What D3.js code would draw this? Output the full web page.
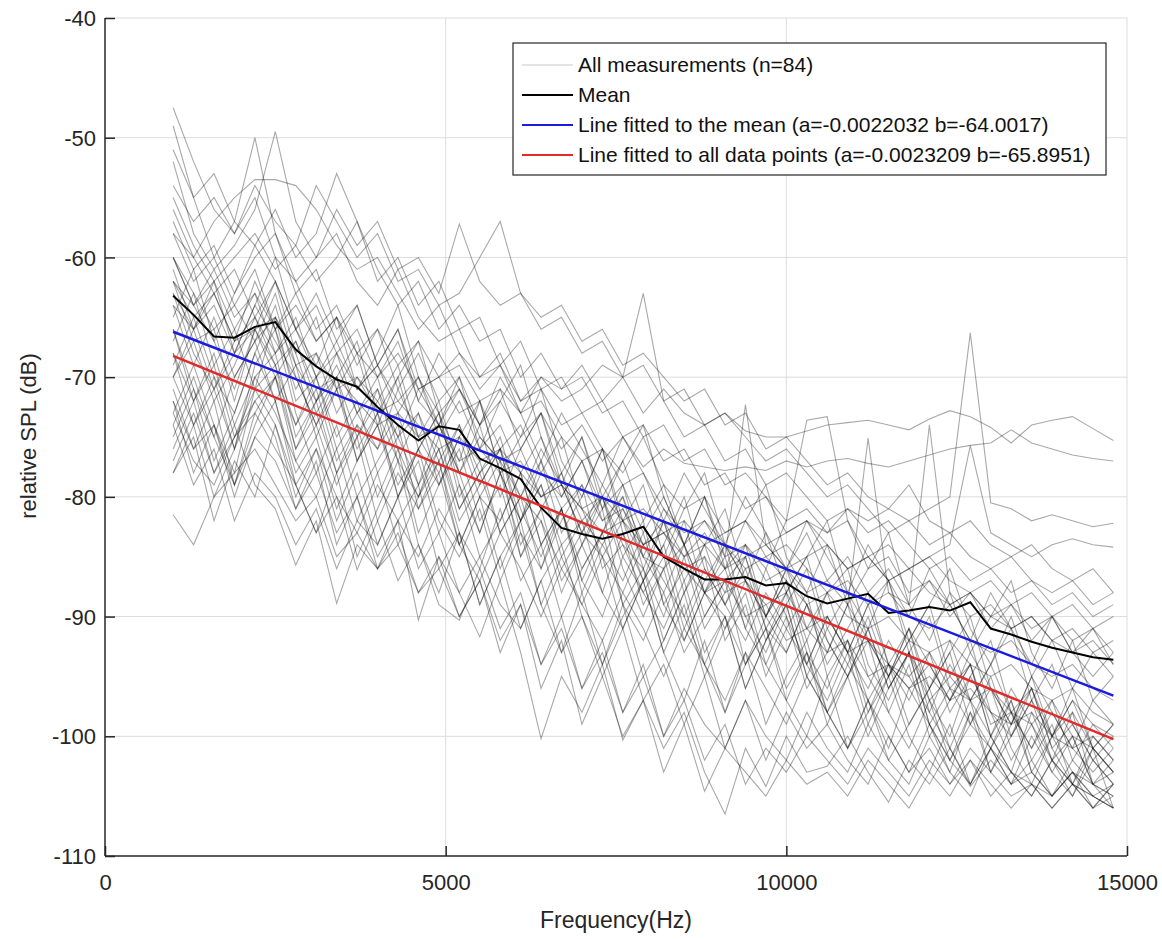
<!DOCTYPE html>
<html><head><meta charset="utf-8">
<script src="https://cdn.jsdelivr.net/npm/d3@7"></script>
<style>body{margin:0;background:#fff}svg{display:block;font-family:"Liberation Sans",Arial,sans-serif}</style>
</head><body><svg id="c" width="1162" height="939"></svg>
<script>
const freqs = [1000,1300,1600,1900,2200,2500,2800,3100,3400,3700,4000,4300,4600,4900,5200,5500,5800,6100,6400,6700,7000,7300,7600,7900,8200,8500,8800,9100,9400,9700,10000,10300,10600,10900,11200,11500,11800,12100,12400,12700,13000,13300,13600,13900,14200,14500,14800];
const xTicks = [0,5000,10000,15000];
const yTicks = [-110,-100,-90,-80,-70,-60,-50,-40];
const meanValues = [-63.2,-64.8,-66.6,-66.7,-65.8,-65.4,-67.7,-69.1,-70.2,-70.8,-72.5,-74.0,-75.3,-74.1,-74.4,-76.8,-77.6,-78.5,-80.9,-82.6,-83.1,-83.5,-83.1,-82.5,-85.0,-86.0,-86.9,-86.9,-86.7,-87.4,-87.2,-88.3,-88.9,-88.5,-88.1,-89.7,-89.5,-89.2,-89.5,-88.8,-91.0,-91.5,-92.1,-92.6,-93.0,-93.4,-93.6];
const fitMean = {a:-0.0022032, b:-64.0017};
const fitAll = {a:-0.0023209, b:-65.8951};
const legendLabels = ["All measurements (n=84)","Mean","Line fitted to the mean (a=-0.0022032 b=-64.0017)","Line fitted to all data points (a=-0.0023209 b=-65.8951)"];
const measurements = [
[-47.5,-52,-56,-58,-55,-60,-62,-66,-64,-68,-70,-67,-72,-74,-71,-75,-77,-76,-80,-78,-82,-84,-81,-85,-86,-84,-88,-87,-90,-89,-92,-91,-93,-92,-95,-94,-96,-95,-97,-96,-98,-99,-98,-100,-101,-100,-102],
[-49,-55,-60,-57,-50,-58,-63,-61,-66,-64,-69,-66,-71,-70,-73,-72,-76,-74,-78,-80,-77,-82,-81,-84,-83,-86,-85,-88,-87,-89,-88,-91,-90,-93,-92,-94,-95,-93,-96,-97,-96,-98,-99,-97,-100,-101,-103],
[-52,-58,-61,-59,-56,-49.5,-57,-60,-58,-62,-64,-61,-65,-67,-66,-70,-68,-72,-71,-74,-73,-76,-78,-75,-79,-81,-80,-83,-82,-85,-84,-86,-88,-87,-89,-88,-90,-91,-89,-92,-93,-92,-94,-95,-94,-96,-97],
[-58,-60,-57,-55,-53.5,-53.5,-54,-56,-59,-61,-60,-63,-66,-64,-68,-70,-69,-73,-72,-75,-77,-76,-79,-78,-81,-83,-82,-84,-86,-85,-87,-89,-88,-90,-91,-90,-92,-93,-92,-94,-95,-94,-96,-97,-96,-98,-99],
[-55,-59,-62,-60,-58,-61,-59,-54,-57,-60,-58,-62,-61,-64,-63,-60,-57,-63,-65,-64,-67,-66,-69,-68,-70,-72,-71,-74,-73,-76,-75,-77,-79,-78,-80,-81,-79,-82,-83,-82,-84,-85,-84,-86,-87,-86,-88],
[-62,-64,-61,-65,-63,-66,-64,-67,-65,-68,-66,-69,-67,-70,-68,-71,-69,-72,-70,-71,-69,-72,-70,-73,-71,-73,-74,-73,-74.5,-75,-75,-74.5,-74,-73.8,-73.6,-74,-74.4,-73.5,-72.8,-73.3,-74.2,-75.5,-74,-73.6,-73.3,-74.3,-75.3],
[-64,-66,-63,-67,-65,-68,-66,-70,-68,-71,-69,-72,-70,-73,-71,-74,-72,-75,-73,-76,-74,-77,-75,-77.5,-76,-77.2,-77.5,-77.8,-77.5,-77.8,-77,-77.5,-77,-76.8,-77.2,-77.5,-77,-76.5,-76,-75.7,-75.5,-74.4,-75.5,-76,-76.5,-76.8,-77],
[-60,-63,-66,-64,-67,-65,-69,-68,-71,-70,-73,-72,-74,-76,-75,-77,-76,-78,-80,-79,-81,-80,-82,-81,-83,-82,-84,-83,-82,-84,-83,-82,-83,-81,-82,-81,-82,-81,-80,-66.3,-80.5,-81,-82,-81.5,-82,-82.5,-82.2],
[-62,-65,-63,-67,-66,-69,-67,-71,-70,-72,-74,-73,-75,-74,-77,-76,-78,-77,-80,-79,-81,-83,-82,-84,-83,-85,-84,-86,-85,-84,-86,-85,-84,-86,-85,-87,-86,-85,-84,-75.7,-83,-84,-85,-84,-83.5,-84,-84.2],
[-56,-60,-63,-61,-65,-62,-66,-64,-68,-66,-70,-68,-71,-70,-69,-72,-71,-73,-70,-72,-71,-69,-70,-63,-72,-75,-74,-77,-76,-79,-78,-80,-82,-81,-83,-82,-84,-86,-85,-87,-86,-88,-87,-89,-88,-90,-89],
[-58,-62,-60,-64,-61,-66,-63,-67,-65,-69,-66,-71,-68,-72,-70,-74,-71,-76,-73,-78,-75,-80,-77,-82,-79,-84,-80,-85,-72.3,-84,-86,-83,-87,-85,-88,-86,-89,-87,-90,-88,-91,-89,-92,-90,-93,-91,-94],
[-60,-64,-62,-66,-63,-68,-65,-70,-67,-71,-69,-73,-70,-75,-72,-76,-74,-78,-75,-80,-77,-81,-79,-83,-80,-84,-82,-85,-84,-86,-82,-73.6,-73.3,-82,-86,-85,-88,-87,-89,-88,-90,-89,-91,-90,-92,-91,-93],
[-63,-66,-64,-68,-66,-70,-67,-72,-69,-73,-71,-75,-73,-77,-74,-78,-76,-80,-77,-81,-79,-82,-80,-84,-82,-85,-83,-86,-84,-87,-86,-88,-87,-89,-75.1,-88,-89,-74,-88,-90,-89,-91,-90,-92,-91,-93,-92],
[-62,-67,-66,-72,-66,-65,-72,-70,-75,-72,-78,-75,-79,-74,-78,-83,-78,-82,-79,-84,-82,-80,-85,-82,-89,-86,-88,-86,-91,-86,-90,-94,-90,-93,-89,-94,-96,-94,-97,-94,-99,-98,-101,-98,-101,-103,-101],
[-70,-66,-71,-68,-64,-67,-70,-74,-71,-76,-73,-70,-76,-79,-75,-80,-82,-78,-84,-81,-86,-83,-79,-85,-88,-84,-90,-87,-85,-91,-93,-89,-92,-95,-91,-96,-93,-97,-95,-92,-98,-100,-96,-101,-99,-102,-104],
[-66,-72,-68,-74,-70,-68,-75,-72,-70,-77,-74,-79,-76,-73,-80,-77,-83,-80,-86,-82,-79,-86,-84,-88,-85,-91,-87,-84,-90,-93,-89,-95,-91,-88,-94,-97,-93,-99,-96,-94,-100,-97,-102,-99,-104,-101,-103],
[-73,-69,-74,-78,-71,-69,-76,-73,-78,-75,-71,-77,-80,-76,-82,-79,-76,-83,-86,-81,-88,-84,-87,-83,-89,-92,-88,-90,-94,-90,-87,-93,-96,-92,-98,-94,-91,-97,-100,-95,-98,-102,-99,-103,-100,-104,-105],
[-68,-74,-70,-76,-69,-66,-73,-78,-74,-80,-77,-74,-81,-78,-84,-80,-77,-85,-82,-88,-84,-81,-89,-86,-92,-88,-85,-92,-89,-95,-91,-88,-95,-92,-97,-94,-99,-96,-93,-99,-101,-97,-103,-100,-98,-104,-102],
[-75,-71,-77,-73,-68,-72,-78,-75,-81,-77,-74,-80,-77,-83,-79,-85,-82,-78,-84,-81,-87,-90,-85,-88,-91,-87,-93,-90,-96,-92,-89,-95,-98,-94,-97,-101,-96,-99,-103,-98,-101,-104,-100,-103,-105,-102,-104],
[-64,-69,-65,-70,-67,-63,-69,-72,-68,-73,-76,-71,-75,-72,-78,-74,-80,-76,-73,-79,-83,-80,-84,-86,-82,-87,-84,-89,-86,-91,-88,-85,-91,-94,-90,-95,-92,-89,-95,-97,-94,-98,-96,-100,-97,-99,-101],
[-71,-76,-72,-79,-74,-70,-77,-80,-76,-82,-78,-84,-80,-77,-83,-86,-81,-87,-84,-90,-86,-83,-89,-92,-88,-93,-90,-87,-94,-91,-96,-93,-99,-95,-92,-98,-101,-97,-102,-99,-96,-101,-104,-100,-103,-105,-104],
[-67,-63,-69,-66,-71,-65,-68,-73,-70,-75,-72,-69,-75,-78,-74,-79,-76,-82,-78,-75,-81,-85,-82,-87,-84,-80,-86,-89,-85,-90,-87,-92,-88,-86,-92,-95,-91,-96,-93,-90,-96,-99,-95,-100,-97,-101,-99],
[-77,-73,-78,-75,-71,-74,-80,-76,-82,-78,-84,-80,-76,-82,-85,-81,-87,-83,-89,-85,-82,-88,-91,-87,-93,-89,-95,-91,-88,-94,-97,-93,-98,-95,-100,-96,-93,-99,-102,-98,-103,-100,-97,-102,-105,-101,-106],
[-65,-61,-67,-71,-66,-62,-68,-65,-71,-68,-74,-70,-67,-73,-77,-72,-78,-75,-71,-77,-80,-76,-82,-79,-85,-81,-78,-84,-87,-83,-88,-85,-82,-88,-91,-87,-92,-89,-86,-91,-94,-90,-95,-92,-96,-93,-95],
[-72,-78,-74,-80,-75,-72,-79,-83,-78,-85,-81,-77,-84,-88,-83,-89,-85,-82,-89,-93,-88,-94,-90,-87,-93,-97,-92,-98,-94,-91,-97,-100,-95,-101,-98,-95,-100,-103,-99,-104,-101,-98,-103,-105,-102,-104,-106],
[-69,-65,-70,-73,-68,-64,-70,-74,-70,-67,-73,-77,-73,-79,-75,-72,-78,-82,-77,-83,-80,-76,-83,-87,-82,-88,-84,-81,-87,-90,-86,-91,-88,-93,-89,-87,-93,-96,-92,-97,-94,-91,-97,-100,-96,-101,-99],
[-74,-70,-75,-79,-73,-70,-76,-72,-78,-74,-80,-76,-83,-79,-76,-82,-79,-85,-81,-87,-84,-80,-86,-90,-86,-92,-88,-85,-91,-94,-90,-96,-93,-89,-95,-98,-94,-100,-97,-94,-100,-103,-98,-102,-100,-104,-103],
[-61,-66,-62,-68,-64,-60,-66,-69,-65,-71,-68,-64,-70,-74,-70,-76,-72,-69,-75,-79,-75,-81,-77,-74,-80,-84,-80,-86,-82,-79,-85,-88,-84,-89,-86,-83,-89,-92,-88,-93,-90,-87,-93,-96,-92,-97,-95],
[-78,-74,-80,-76,-72,-75,-81,-77,-84,-80,-86,-82,-79,-86,-83,-89,-85,-91,-87,-84,-90,-94,-89,-95,-92,-88,-94,-98,-93,-99,-95,-92,-98,-101,-97,-102,-99,-96,-101,-104,-100,-103,-105,-102,-104,-106,-105],
[-70,-67,-72,-69,-65,-69,-74,-70,-76,-73,-70,-76,-80,-75,-81,-78,-75,-81,-85,-81,-87,-83,-80,-86,-90,-85,-91,-88,-84,-90,-93,-89,-94,-91,-88,-94,-97,-93,-98,-95,-92,-98,-101,-97,-102,-99,-100],
[-66,-71,-75,-70,-67,-72,-69,-75,-71,-77,-73,-80,-76,-73,-79,-83,-78,-84,-81,-78,-84,-88,-83,-89,-86,-82,-88,-91,-87,-92,-89,-86,-92,-95,-91,-96,-93,-90,-96,-99,-95,-100,-97,-94,-99,-102,-100],
[-68,-72,-69,-75,-72,-70,-74,-71,-77,-74,-76,-73,-79,-76,-81,-78,-83,-80,-82,-86,-83,-85,-88,-84,-87,-90,-86,-89,-92,-88,-91,-94,-90,-93,-96,-92,-95,-98,-94,-97,-100,-96,-99,-102,-98,-101,-103],
[-63,-68,-71,-67,-62,-66,-71,-68,-73,-70,-72,-75,-71,-74,-78,-75,-77,-80,-76,-79,-83,-79,-82,-85,-81,-84,-88,-84,-87,-90,-86,-89,-93,-89,-92,-95,-91,-94,-97,-93,-96,-99,-95,-98,-101,-97,-99],
[-73,-77,-79,-75,-73,-76,-79,-76,-80,-83,-79,-82,-85,-81,-84,-87,-83,-86,-90,-86,-89,-92,-88,-91,-95,-91,-94,-97,-93,-96,-99,-95,-98,-101,-97,-100,-103,-99,-102,-104,-101,-103,-105,-102,-104,-106,-104],
[-60,-64,-67,-63,-59,-62,-66,-63,-67,-64,-69,-66,-72,-68,-71,-74,-70,-73,-77,-73,-76,-79,-75,-78,-82,-78,-81,-84,-80,-83,-86,-82,-85,-88,-84,-87,-90,-86,-89,-92,-88,-91,-94,-90,-93,-95,-93],
[-70,-74,-71,-76,-70,-73,-77,-74,-79,-75,-82,-78,-81,-77,-84,-80,-86,-82,-79,-85,-89,-85,-91,-87,-84,-90,-94,-90,-96,-92,-88,-94,-97,-93,-99,-95,-92,-98,-101,-97,-103,-99,-96,-101,-104,-100,-102],
[-81.5,-84,-80,-78,-76,-79,-82,-80,-85,-83,-86,-84,-88,-86,-90,-87,-92,-89,-94,-91,-96,-93,-98,-95,-100,-97,-102,-99,-104,-101,-103,-100,-102,-104,-101,-103,-105,-102,-104,-101,-103,-105,-104,-106,-104,-105,-106],
[-76,-72,-78,-74,-79,-81,-85.7,-82,-88.9,-84,-86,-83,-88,-85,-90,-87,-93,-89,-96,-92,-99,-95,-100,-97,-103,-99,-104.6,-101,-103,-105,-102,-104,-103,-105,-102,-104,-106,-103,-105,-102,-104,-106,-104,-105,-103,-105,-106],
[-72,-76,-74,-79,-75,-77,-81,-78,-83,-80,-85,-82,-90.3,-85,-88,-91.7,-87,-93,-100.2,-95,-98,-94,-100.3,-97,-101,-98,-103,-106.5,-101,-104.2,-100,-103,-102.5,-100,-103,-105.5,-102,-104,-101,-104.2,-102,-104,-103,-105,-103,-104,-105],
[-78,-75,-82,-77,-80,-74,-79,-83,-80,-86.1,-82,-87,-84,-89,-90.3,-86,-91,-88,-94,-90,-96,-92,-98,-94,-100,-96,-99,-101,-97,-100,-102,-98,-101,-103,-99,-102,-104,-100,-103,-105,-101,-104,-102,-105,-103,-106,-104],
[-74,-79,-76,-82,-78,-80,-84,-81,-86,-82,-84,-80,-86,-83,-88,-85,-89,-91,-87,-93,-90,-95,-91,-97,-94,-99,-95,-101,-97,-102,-98,-101,-99,-102,-104,-100,-103,-101,-104,-102,-105,-103,-104,-106,-104,-105,-106],
[-51,-55,-53,-57,-59,-56,-60,-58,-53,-57,-62,-60,-64,-62,-66,-65,-69,-67,-71,-70,-73,-72,-75,-74,-77,-76,-79,-78,-81,-80,-83,-82,-84,-86,-85,-87,-86,-88,-89,-88,-90,-91,-90,-92,-93,-92,-94],
[-54,-57,-55,-58,-54,-57,-59,-62,-60,-57,-61,-64,-62,-66,-64,-67,-66,-70,-68,-71,-70,-73,-72,-75,-74,-77,-76,-79,-78,-80,-82,-81,-83,-82,-85,-84,-86,-85,-87,-88,-87,-89,-88,-90,-89,-91,-90],
[-57,-61,-59,-63,-60,-58,-62,-60,-56,-59,-57,-61,-60,-63,-57.2,-62,-64,-63,-66,-65,-68,-67,-70,-69,-72,-71,-74,-73,-75,-77,-76,-78,-80,-79,-81,-83,-82,-84,-83,-85,-86,-85,-87,-88,-87,-89,-88]
];

const svg = d3.select("#c");
const m = {l:105, r:1127, t:18, b:856};
const x = d3.scaleLinear().domain([0,15000]).range([m.l, m.r]);
const y = d3.scaleLinear().domain([-110,-40]).range([m.b, m.t]);
const axisCol = "#262626";

// grid
const g = svg.append("g");
g.selectAll(".gx").data(xTicks.slice(1)).join("line")
  .attr("x1", d=>x(d)).attr("x2", d=>x(d)).attr("y1", m.t).attr("y2", m.b)
  .attr("stroke", "#dcdcdc").attr("stroke-width", 1);
g.selectAll(".gy").data(yTicks.slice(1)).join("line")
  .attr("x1", m.l).attr("x2", m.r).attr("y1", d=>y(d)).attr("y2", d=>y(d))
  .attr("stroke", "#dcdcdc").attr("stroke-width", 1);

// measurement lines
const line = d3.line().x((d,i)=>x(freqs[i])).y(d=>y(d));
svg.append("g").selectAll("path").data(measurements).join("path")
  .attr("d", line).attr("fill","none").attr("stroke","#000")
  .attr("stroke-opacity",0.34).attr("stroke-width",1.1);

// mean
svg.append("path").datum(meanValues).attr("d", line)
  .attr("fill","none").attr("stroke","#000").attr("stroke-width",2);

// fits
const fx = [freqs[0], freqs[freqs.length-1]];
const fitLine = d3.line().x(d=>x(d[0])).y(d=>y(d[1]));
svg.append("path").datum(fx.map(f=>[f, fitMean.a*f+fitMean.b])).attr("d", fitLine)
  .attr("fill","none").attr("stroke","#1a1ae0").attr("stroke-width",2.5);
svg.append("path").datum(fx.map(f=>[f, fitAll.a*f+fitAll.b])).attr("d", fitLine)
  .attr("fill","none").attr("stroke","#e22a2a").attr("stroke-width",2.5);

// axes
const fmt = d => String(d);
const xAxis = d3.axisBottom(x).tickValues(xTicks).tickSize(-10).tickPadding(18).tickFormat(fmt);
const yAxis = d3.axisLeft(y).tickValues(yTicks).tickSize(-10).tickPadding(9).tickFormat(fmt);
const ax = svg.append("g").attr("transform",`translate(0,${m.b})`).call(xAxis);
const ay = svg.append("g").attr("transform",`translate(${m.l},0)`).call(yAxis);
[ax, ay].forEach(a=>{
  a.select(".domain").attr("stroke",axisCol).attr("stroke-width",1.5);
  a.selectAll(".tick line").attr("stroke",axisCol).attr("stroke-width",1.5);
  a.selectAll(".tick text").attr("fill","#262626").style("font-size","22px").style("font-family","'Liberation Sans',Arial,sans-serif");
});
ax.select(".domain").attr("d", `M${m.l},0H${m.r}`);
ay.select(".domain").attr("d", `M0,${m.b}V${m.t}`);
ay.selectAll(".tick text").attr("dy","0.35em");

svg.append("text").attr("x", 616).attr("y", 928).attr("text-anchor","middle")
  .attr("fill","#262626").style("font-size","23px").text("Frequency(Hz)");
svg.append("text").attr("transform","translate(36,436) rotate(-90)").attr("text-anchor","middle")
  .attr("fill","#262626").style("font-size","22px").text("relative SPL (dB)");

// legend
const lg = svg.append("g");
lg.append("rect").attr("x",513).attr("y",43).attr("width",593).attr("height",132)
  .attr("fill","#fff").attr("stroke",axisCol).attr("stroke-width",1.2);
const legCols = ["#c8c8c8","#000","#1a1ae0","#e22a2a"];
const legY = d3.scalePoint().domain(d3.range(legendLabels.length)).range([65,155]);
legendLabels.forEach((t,i)=>{
  lg.append("line").attr("x1",522).attr("x2",573).attr("y1",legY(i)).attr("y2",legY(i))
    .attr("stroke",legCols[i]).attr("stroke-width", i===0?1.2:2);
  lg.append("text").attr("x",578).attr("y",legY(i)).attr("dy","0.35em")
    .attr("fill","#111").style("font-size","21px").text(t);
});
</script></body></html>
